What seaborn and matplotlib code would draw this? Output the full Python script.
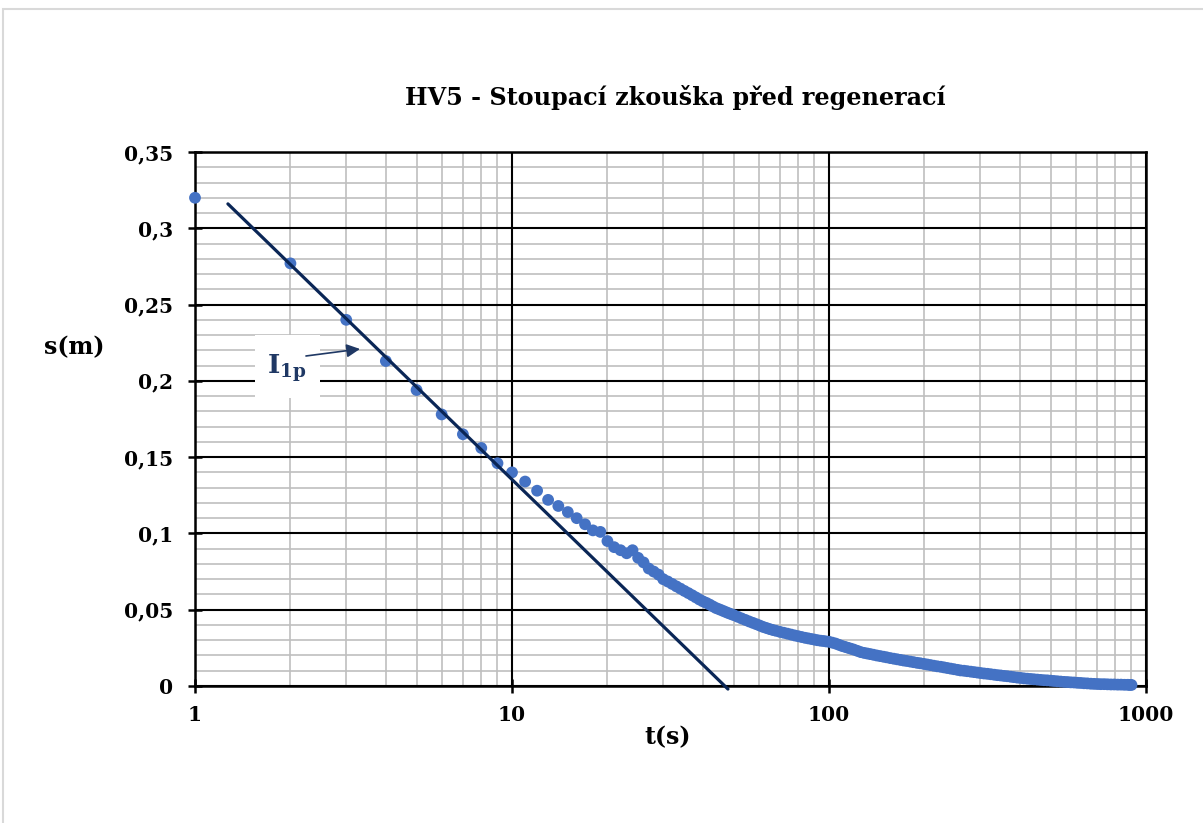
import numpy as np
import pandas as pd
import matplotlib
matplotlib.use("Agg")
import matplotlib.pyplot as plt
import matplotlib.ticker as mticker
from matplotlib.patches import Rectangle
import seaborn as sns

# ---- data ----
t_early = [1, 2, 3, 4, 5, 6, 7, 8, 9, 10,
           11, 12, 13, 14, 15, 16, 17, 18, 19, 20,
           21, 22, 23, 24, 25, 26, 27, 28, 29, 30]
s_early = [0.320, 0.277, 0.240, 0.213, 0.194, 0.178, 0.165, 0.156, 0.146, 0.140,
           0.134, 0.128, 0.122, 0.118, 0.114, 0.110, 0.106, 0.102, 0.101, 0.095,
           0.091, 0.089, 0.087, 0.089, 0.084, 0.081, 0.077, 0.075, 0.073, 0.070]

t_late = [31, 32, 33, 34, 35, 36, 37, 38, 39, 40,
          41, 42, 43, 44, 45, 46, 47, 48, 49, 50,
          51.5, 53, 54.5, 56, 57.5, 59, 60.5, 62, 63.5, 65,
          66.5, 68, 70, 72, 74, 76, 78, 80, 82, 84,
          86, 88, 90, 92, 94, 96, 98, 100, 102.5, 105,
          107.5, 110, 112.5, 115, 117.5, 120, 123, 126, 129, 132,
          135, 138, 141.5, 145, 148.5, 152, 156, 160, 164, 168,
          172, 176, 180.5, 185, 189.5, 194, 199, 204, 209, 214,
          219.5, 225, 230.5, 236, 242, 248, 254, 260, 266.5, 273,
          280, 287, 294, 301, 308.5, 316, 324, 332, 340, 348,
          356.5, 365, 374, 383, 392.5, 402, 412, 422, 432.5, 443,
          454, 465, 476.5, 488, 500, 512, 525, 538, 551.5, 565,
          579, 593, 607.5, 622, 637.5, 653, 669.5, 686, 703, 720,
          738, 756, 775, 794, 814, 834, 855, 876, 888, 900]
s_late = [0.0685, 0.0669, 0.0653, 0.0638, 0.0623, 0.0609, 0.0595, 0.0581, 0.0567, 0.0555,
          0.0545, 0.0534, 0.0522, 0.0511, 0.0503, 0.0495, 0.0487, 0.0479, 0.0472, 0.0465,
          0.0454, 0.0443, 0.0433, 0.0423, 0.0414, 0.0405, 0.0396, 0.0387, 0.0380, 0.0373,
          0.0367, 0.0362, 0.0355, 0.0349, 0.0343, 0.0337, 0.0331, 0.0326, 0.0321, 0.0316,
          0.0312, 0.0308, 0.0304, 0.0300, 0.0297, 0.0295, 0.0292, 0.0290, 0.0284, 0.0278,
          0.0270, 0.0262, 0.0256, 0.0250, 0.0244, 0.0238, 0.0230, 0.0222, 0.0217, 0.0213,
          0.0209, 0.0205, 0.0200, 0.0196, 0.0192, 0.0188, 0.0183, 0.0179, 0.0175, 0.0171,
          0.0167, 0.0164, 0.0160, 0.0156, 0.0152, 0.0149, 0.0145, 0.0141, 0.0137, 0.0133,
          0.0129, 0.0126, 0.0122, 0.0118, 0.0114, 0.0110, 0.0106, 0.0102, 0.0100, 0.0097,
          0.0094, 0.0091, 0.0088, 0.0085, 0.0082, 0.0080, 0.0077, 0.0074, 0.0071, 0.0069,
          0.0066, 0.0064, 0.0061, 0.0058, 0.0055, 0.0053, 0.0050, 0.0048, 0.0046, 0.0044,
          0.0042, 0.0040, 0.0038, 0.0037, 0.0035, 0.0033, 0.0031, 0.0029, 0.0027, 0.0026,
          0.0024, 0.0023, 0.0021, 0.0020, 0.0018, 0.0017, 0.0015, 0.0014, 0.0013, 0.0012,
          0.0012, 0.0011, 0.0010, 0.0010, 0.0009, 0.0009, 0.0008, 0.0008, 0.0007, 0.0007]

fit_t = [1.27, 48.0]
fit_s = [0.316, -0.002]

x_ticks = [1, 10, 100, 1000]
x_tick_labels = ["1", "10", "100", "1000"]
y_ticks = [0, 0.05, 0.1, 0.15, 0.2, 0.25, 0.3, 0.35]
y_tick_labels = ["0", "0,05", "0,1", "0,15", "0,2", "0,25", "0,3", "0,35"]

title = "HV5 - Stoupací zkouška před regenerací"
xlabel = "t(s)"
ylabel = "s(m)"
annot_label = r"I$_{\mathbf{1p}}$"

# ---- styling ----
sns.set_theme(style="white")
plt.rcParams["font.family"] = ["DejaVu Serif"]
plt.rcParams["font.weight"] = "bold"
plt.rcParams["mathtext.fontset"] = "dejavuserif"

W, H = 1203, 823
fig = plt.figure(figsize=(W / 100, H / 100), dpi=100)
fig.patch.set_facecolor("white")
ax = fig.add_axes([195 / W, 1 - 686 / H, (1146 - 195) / W, (686 - 152) / H])

df = pd.DataFrame({"t": t_early + t_late, "s": s_early + s_late})
fit = pd.DataFrame({"t": fit_t, "s": fit_s})

ax.set_xscale("log")
ax.set_xlim(1, 1000)
ax.set_ylim(0, 0.35)

navy = "#0A2656"
blue = "#4472C4"

sns.scatterplot(data=df, x="t", y="s", ax=ax, color=blue, s=72, edgecolor="none",
                zorder=4, clip_on=False, legend=False)
sns.lineplot(data=fit, x="t", y="s", ax=ax, color=navy, linewidth=2.3, zorder=5,
             sort=False, legend=False)
for l in ax.lines:
    l.set_clip_on(False)

# grid
ax.xaxis.set_major_locator(mticker.FixedLocator(x_ticks))
ax.xaxis.set_minor_locator(mticker.LogLocator(base=10, subs=np.arange(2, 10)))
ax.yaxis.set_major_locator(mticker.FixedLocator(y_ticks))
ax.yaxis.set_minor_locator(mticker.MultipleLocator(0.01))
ax.xaxis.set_minor_formatter(mticker.NullFormatter())
ax.set_xticklabels(x_tick_labels)
ax.set_yticklabels(y_tick_labels)
ax.grid(True, which="minor", color="#BFBFBF", linewidth=1.2)
ax.grid(False, which="major")
ax.set_axisbelow(True)
for xv in x_ticks:
    ax.axvline(xv, color="black", linewidth=1.5, zorder=1)
for yv in y_ticks:
    ax.axhline(yv, color="black", linewidth=1.5, zorder=1)

for sp in ax.spines.values():
    sp.set_color("black")
    sp.set_linewidth(1.8)
    sp.set_visible(True)

ax.tick_params(axis="both", which="major", direction="inout", length=10, width=1.8,
               color="black", labelsize=14.5, labelcolor="black")
ax.tick_params(axis="x", which="major", pad=9, bottom=True)
ax.tick_params(axis="y", which="major", pad=11, left=True)
ax.tick_params(axis="both", which="minor", length=0)
for lab in ax.get_xticklabels() + ax.get_yticklabels():
    lab.set_fontweight("bold")

ax.set_xlabel("")
ax.set_ylabel("")

fig.text(675 / W, 1 - 97 / H, title, ha="center", va="center", fontsize=17.2,
         fontweight="bold", color="black")
fig.text(668 / W, 1 - 737 / H, xlabel, ha="center", va="center", fontsize=17,
         fontweight="bold", color="black")
fig.text(74 / W, 1 - 347 / H, ylabel, ha="center", va="center", fontsize=17,
         fontweight="bold", color="black")

# annotation box with label and arrow
ax.add_patch(Rectangle((1.546, 0.1888), 2.479 - 1.546, 0.2300 - 0.1888,
                       facecolor="white", edgecolor="none", zorder=3))
ax.text(1.95, 0.2085, annot_label, ha="center", va="center", fontsize=19,
        fontweight="bold", color="#1F3864", zorder=6)
ax.annotate("", xy=(3.315, 0.2209), xytext=(2.239, 0.2163),
            arrowprops=dict(arrowstyle="-|>", color="#1F3864", lw=1.2,
                            mutation_scale=20, shrinkA=0, shrinkB=0), zorder=6)

# outer chart frame
fig.patches.append(Rectangle((3 / W, -0.1), 1.2, 1.1 - 9 / H, transform=fig.transFigure,
                             fill=False, edgecolor="#D9D9D9", linewidth=1.5))

fig.savefig("out.png", dpi=100, facecolor="white")
